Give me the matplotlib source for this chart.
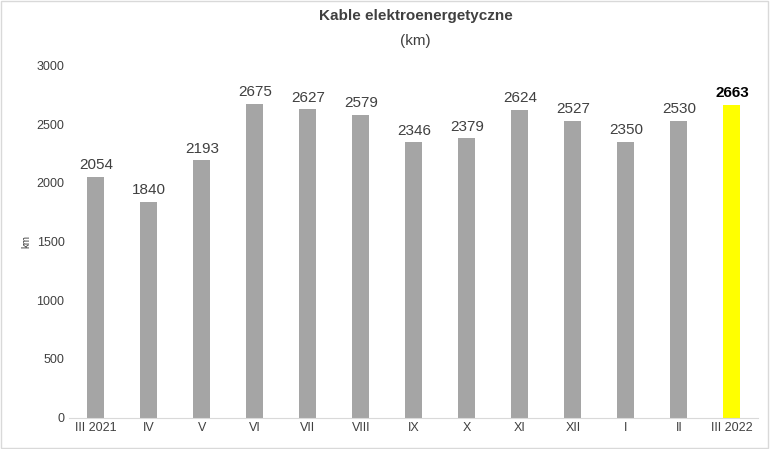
import matplotlib.pyplot as plt

months = ['III 2021', 'IV', 'V', 'VI', 'VII', 'VIII', 'IX', 'X', 'XI', 'XII', 'I', 'II', 'III 2022']
values = [2054, 1840, 2193, 2675, 2627, 2579, 2346, 2379, 2624, 2527, 2350, 2530, 2663]
colors = ['#a5a5a5'] * 12 + ['#ffff00']

plt.rcParams['font.family'] = ['Liberation Sans Narrow', 'Liberation Sans', 'DejaVu Sans']
fig = plt.figure(figsize=(7.7, 4.49), dpi=100)
ax = fig.add_axes([0.09, 0.07, 0.895, 0.784])
x = range(len(months))
ax.bar(x, values, width=0.32, color=colors)
for i, v in enumerate(values):
    last = i == len(values) - 1
    ax.text(i, v + 40, str(v), ha='center', va='bottom', fontsize=11,
            color='#000000' if last else '#404040', fontweight='bold' if last else 'normal')
ax.set_ylim(0, 3000)
ax.set_xlim(-0.5, len(months) - 0.5)
ax.set_yticks(range(0, 3001, 500))
ax.set_xticks(list(x))
ax.set_xticklabels(months)
ax.tick_params(length=0, labelsize=9, colors='#404040')
ax.set_ylabel('km', fontsize=7, color='#404040')
for s in ['top', 'right', 'left']:
    ax.spines[s].set_visible(False)
ax.spines['bottom'].set_color('#d9d9d9')
fig.text(0.54, 0.955, 'Kable elektroenergetyczne', ha='center', fontsize=11, fontweight='bold', color='#404040')
fig.text(0.54, 0.9, '(km)', ha='center', fontsize=11, color='#404040')
fig.patches.append(plt.Rectangle((0.001, 0.002), 0.997, 0.995, transform=fig.transFigure,
                                 fill=False, edgecolor='#d9d9d9', linewidth=1))
fig.savefig('out.png')
